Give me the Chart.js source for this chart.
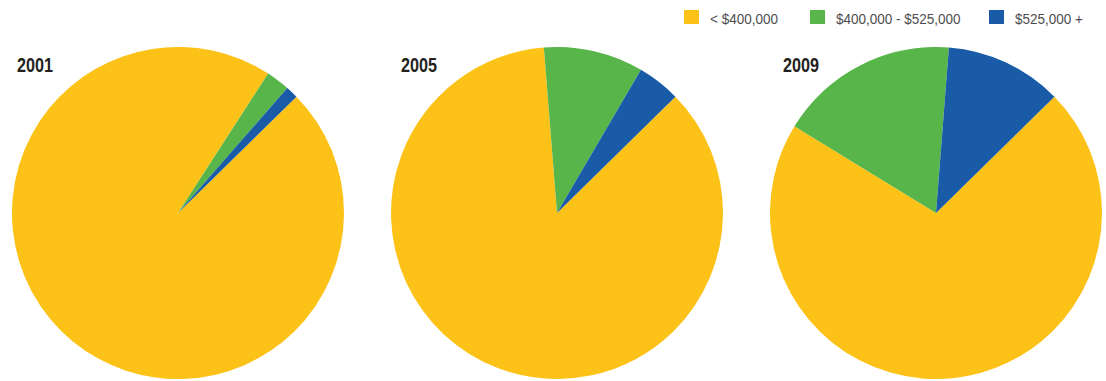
<!DOCTYPE html>
<html>
<head>
<meta charset="utf-8">
<script src="https://cdn.jsdelivr.net/npm/chart.js@4"></script>
<style>
  body { margin: 0; width: 1106px; height: 381px; background: #fff; overflow: hidden; position: relative; font-family: "Liberation Sans", Arial, sans-serif; }
  .pie { position: absolute; top: 47px; width: 332px; height: 332px; }
  .year { position: absolute; top: 55px; font-weight: bold; font-size: 20px; line-height: 20px; color: #231f20; transform: scaleX(0.81); transform-origin: left top; }
  .legend span { position: absolute; top: 11px; font-size: 15px; line-height: 15px; color: #4d4d4f; white-space: nowrap; transform: scaleX(0.9); transform-origin: left top; }
  .legend i { position: absolute; top: 9.5px; width: 14.5px; height: 14.5px; }
</style>
</head>
<body>
<div class="legend" id="legend"></div>

<div class="year" style="left:17px">2001</div>
<div class="year" style="left:401px">2005</div>
<div class="year" style="left:783px">2009</div>

<div class="pie" style="left:12px"><canvas id="pie2001"></canvas></div>
<div class="pie" style="left:391px"><canvas id="pie2005"></canvas></div>
<div class="pie" style="left:770px"><canvas id="pie2009"></canvas></div>

<script>
const priceRanges = ["< $400,000", "$400,000 - $525,000", "$525,000 +"];
const years = ["2001", "2005", "2009"];
// share of sales (%) in each price range
const sales2001 = [96.5, 2.3, 1.2];
const sales2005 = [86.1, 9.7, 4.2];
const sales2009 = [71.1, 17.5, 11.4];
const rangeColors = ["#fcc217", "#57b54a", "#1a5ba8"];

// legend across the top right
const legend = document.getElementById("legend");
const boxX = [684, 810, 989];
priceRanges.forEach((label, i) => {
  const box = document.createElement("i");
  box.style.left = boxX[i] + "px";
  box.style.background = rangeColors[i];
  legend.appendChild(box);
  const text = document.createElement("span");
  text.style.left = (boxX[i] + 25.5) + "px";
  text.textContent = label;
  legend.appendChild(text);
});

const renderPie = (canvasId, values) => {
  new Chart(document.getElementById(canvasId), {
    type: "pie",
    data: {
      labels: priceRanges,
      datasets: [
        {
          data: values,
          backgroundColor: rangeColors,
          borderWidth: 0,
          hoverOffset: 0,
        },
      ],
    },
    options: {
      responsive: true,
      maintainAspectRatio: false,
      animation: false,
      events: [],
      rotation: 45.5,
      layout: { padding: 0 },
      plugins: {
        legend: { display: false },
        tooltip: { enabled: false },
      },
    },
  });
};

renderPie("pie2001", sales2001);
renderPie("pie2005", sales2005);
renderPie("pie2009", sales2009);
</script>
</body>
</html>
